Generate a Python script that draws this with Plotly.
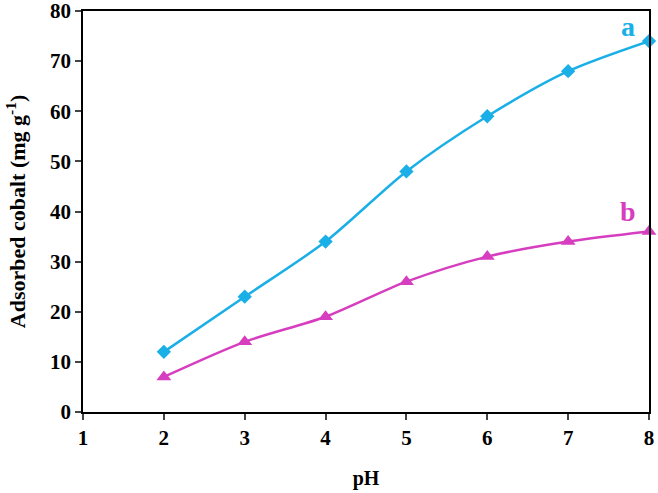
import plotly.graph_objects as go

ph = [2, 3, 4, 5, 6, 7, 8]
series_a = [12, 23, 34, 48, 59, 68, 74]
series_b = [7, 14, 19, 26, 31, 34, 36]
x_ticks = [1, 2, 3, 4, 5, 6, 7, 8]
y_ticks = [0, 10, 20, 30, 40, 50, 60, 70, 80]

blue = "#1AAFE6"
magenta = "#D63DBF"
font = "Liberation Serif"

fig = go.Figure()
fig.add_trace(go.Scatter(x=ph, y=series_a, mode="lines+markers",
                         line=dict(color=blue, width=2.5, shape="spline", smoothing=0.8),
                         marker=dict(symbol="diamond", size=11, color=blue),
                         cliponaxis=False, name="a"))
fig.add_trace(go.Scatter(x=ph, y=series_b, mode="lines+markers",
                         line=dict(color=magenta, width=2.5, shape="spline", smoothing=0.8),
                         marker=dict(symbol="triangle-up", size=13, color=magenta),
                         cliponaxis=False, name="b"))

fig.add_annotation(x=7.74, y=76.9, text="<b>a</b>", showarrow=False,
                   font=dict(family=font, size=28, color=blue))
fig.add_annotation(x=7.74, y=40.0, text="<b>b</b>", showarrow=False,
                   font=dict(family=font, size=28, color=magenta))

fig.update_layout(
    width=658, height=493,
    margin=dict(l=83, r=9, t=11, b=81, autoexpand=False),
    paper_bgcolor="white", plot_bgcolor="white",
    showlegend=False,
    font=dict(family=font, color="black"),
)
fig.update_xaxes(range=[1, 8], tickvals=x_ticks, ticks="outside", ticklen=6,
                 tickwidth=1.5, showline=True, linecolor="black", linewidth=1.5,
                 mirror=True, showgrid=False, zeroline=False, automargin=False,
                 ticklabeloverflow="allow",
                 tickfont=dict(family=font, size=21, color="black", weight=700),
                 title=dict(text="<b>pH</b>", font=dict(family=font, size=20), standoff=22))
fig.update_yaxes(range=[0, 80], tickvals=y_ticks, ticks="outside", ticklen=6,
                 tickwidth=1.5, showline=True, linecolor="black", linewidth=1.5,
                 mirror=True, showgrid=False, zeroline=False, automargin=False,
                 ticklabeloverflow="allow",
                 tickfont=dict(family=font, size=21, color="black", weight=700),
                 title=dict(text="<b>Adsorbed cobalt (mg g<sup>-1</sup>)</b>",
                            font=dict(family=font, size=22), standoff=18))

fig.write_html("out.html", config={"displayModeBar": False},
               post_script="document.body.style.margin='0';document.body.style.padding='0';document.body.style.overflow='hidden';")
